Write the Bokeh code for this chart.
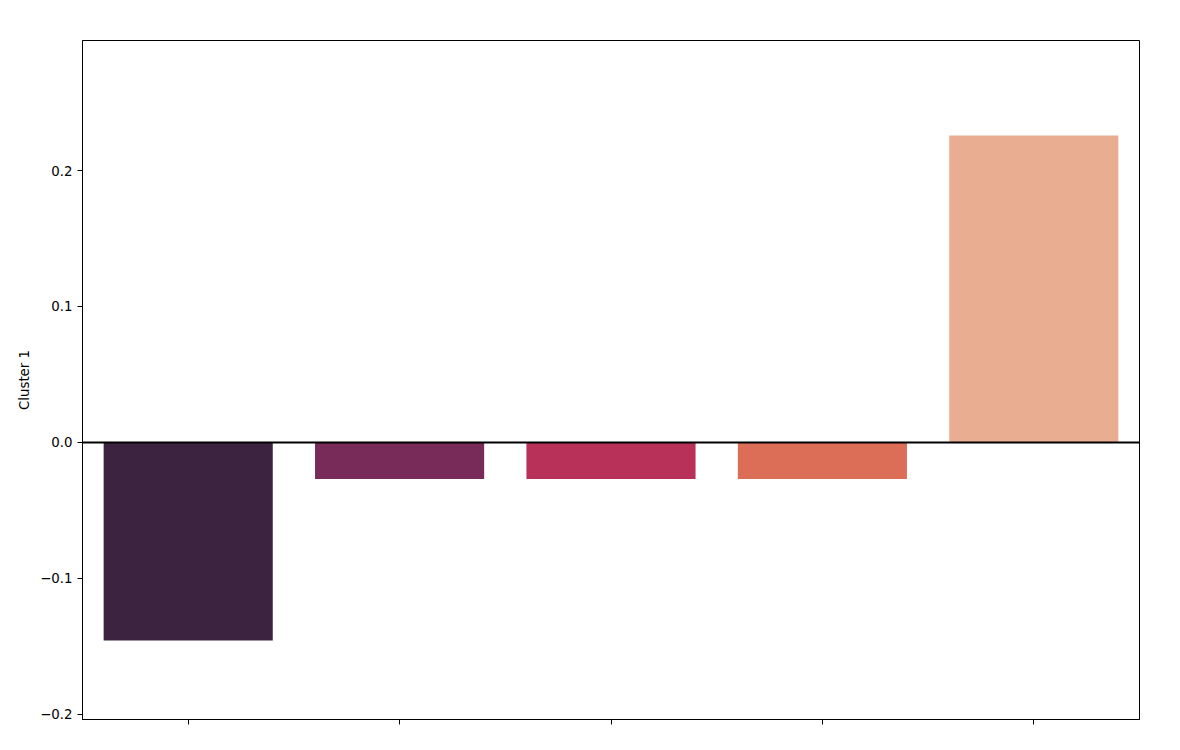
from bokeh.plotting import figure
from bokeh.models import FixedTicker, Span, Range1d
from bokeh.embed import file_html
from bokeh.resources import INLINE

categories = [0, 1, 2, 3, 4]
values = [-0.1456, -0.0268, -0.0268, -0.0268, 0.2257]
colors = ["#3c2340", "#782a58", "#b73158", "#dc6e58", "#e9ae92"]
y_ticks = [-0.2, -0.1, 0.0, 0.1, 0.2]
y_tick_labels = ["\u22120.2", "\u22120.1", "0.0", "0.1", "0.2"]

p = figure(width=1172, height=742, output_backend="svg", toolbar_location=None,
           x_range=Range1d(-0.5, 4.5), y_range=Range1d(-0.2037, 0.2956),
           min_border_left=82, min_border_right=33, min_border_top=40, min_border_bottom=23)

p.vbar(x=categories, top=values, bottom=0, width=0.8, fill_color=colors, line_color=None)
p.add_layout(Span(location=0, dimension="width", line_color="black", line_width=2))

p.grid.visible = False
p.outline_line_color = "black"
p.outline_line_width = 1
p.background_fill_color = "white"
p.border_fill_color = "white"

font = "DejaVu Sans"
p.xaxis.ticker = FixedTicker(ticks=categories)
p.xaxis.major_label_overrides = {c: "" for c in categories}
p.xaxis.major_label_text_font_size = "10pt"
p.xaxis.major_label_standoff = 0
p.xaxis.minor_tick_line_color = None
p.xaxis.major_tick_out = 5
p.xaxis.major_tick_in = 0
p.xaxis.axis_line_color = "black"

p.yaxis.ticker = FixedTicker(ticks=y_ticks)
p.yaxis.major_label_overrides = {t: l for t, l in zip(y_ticks, y_tick_labels)}
p.yaxis.minor_tick_line_color = None
p.yaxis.major_tick_out = 5
p.yaxis.major_tick_in = 0
p.yaxis.axis_line_color = "black"
p.yaxis.major_label_text_font = font
p.yaxis.major_label_text_font_size = "10pt"
p.yaxis.major_label_text_color = "black"
p.yaxis.major_label_standoff = 5
p.yaxis.axis_label = "Cluster 1"
p.yaxis.axis_label_text_font = font
p.yaxis.axis_label_text_font_size = "10pt"
p.yaxis.axis_label_text_font_style = "normal"
p.yaxis.axis_label_text_color = "black"
p.yaxis.axis_label_standoff = 5

open("out.html", "w").write(file_html(p, INLINE))
